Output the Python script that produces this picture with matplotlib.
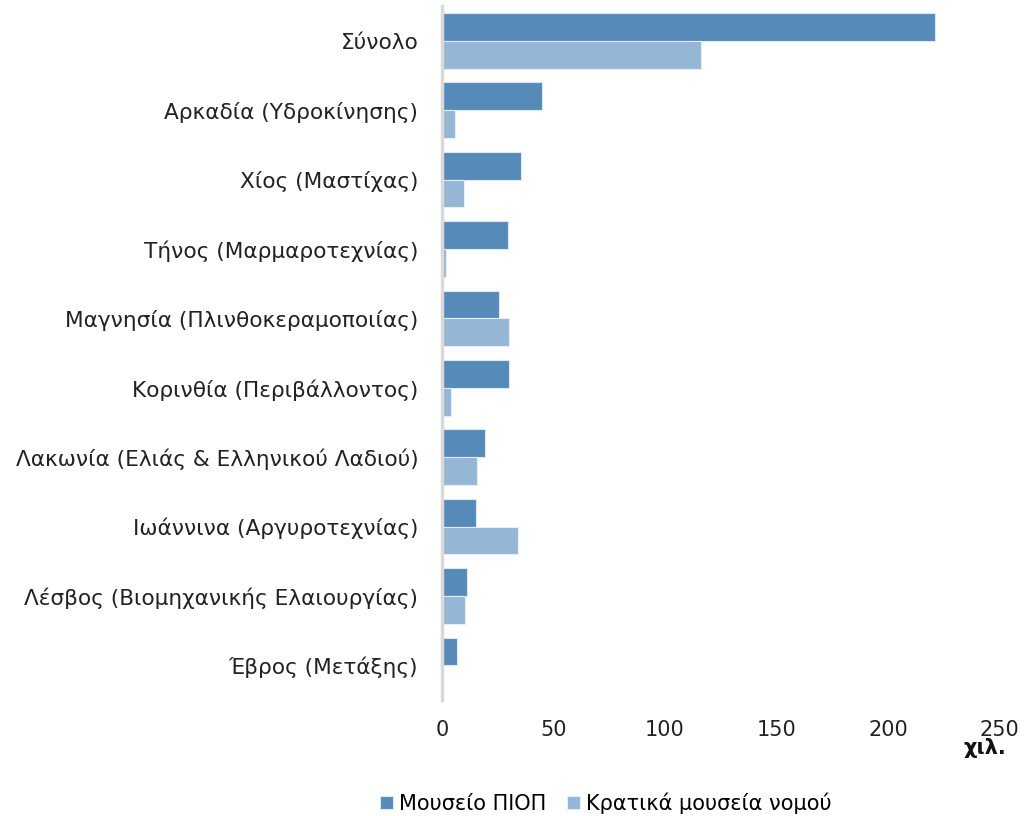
import numpy as np
import matplotlib.pyplot as plt

# categories, top to bottom as in the chart
categories = [
    "Σύνολο",
    "Αρκαδία (Υδροκίνησης)",
    "Χίος (Μαστίχας)",
    "Τήνος (Μαρμαροτεχνίας)",
    "Μαγνησία (Πλινθοκεραμοποιίας)",
    "Κορινθία (Περιβάλλοντος)",
    "Λακωνία (Ελιάς & Ελληνικού Λαδιού)",
    "Ιωάννινα (Αργυροτεχνίας)",
    "Λέσβος (Βιομηχανικής Ελαιουργίας)",
    "Έβρος (Μετάξης)",
]
piop = [221, 45, 35.3, 29.6, 25.6, 30.2, 19.3, 15.2, 11.2, 6.6]
state = [116, 6, 9.9, 1.9, 30.2, 4.2, 15.8, 34.2, 10.6, 0]
series_labels = ["Μουσείο ΠΙΟΠ", "Κρατικά μουσεία νομού"]
x_ticks = [0, 50, 100, 150, 200, 250]
unit_label = "χιλ."

DARK = "#558ab9"
LIGHT = "#95b6d4"

plt.rcParams['font.family'] = ['DejaVu Sans']

fig = plt.figure(figsize=(10.25, 8.16), dpi=100)
ax = fig.add_axes([0.431, 0.142, 0.5444, 0.8505])

y = np.arange(len(categories))
h = 0.4
ax.barh(y - h / 2, piop, height=h, color=DARK, edgecolor="#dde8f2",
        linewidth=0.8, label=series_labels[0])
ax.barh(y + h / 2, state, height=h, color=LIGHT, edgecolor="#e6eef6",
        linewidth=0.8, label=series_labels[1])

ax.set_ylim(len(categories) - 0.5, -0.5)
ax.set_xlim(0, 250)
ax.set_xticks(x_ticks)
ax.set_xticklabels([str(t) for t in x_ticks])
ax.set_yticks(y)
ax.set_yticklabels(categories)
ax.tick_params(axis="both", length=0, colors="#222222")
ax.tick_params(axis="x", pad=14, labelsize=15)
ax.tick_params(axis="y", pad=17, labelsize=15.6)

for side in ["top", "right", "bottom"]:
    ax.spines[side].set_visible(False)
ax.spines["left"].set_color("#d9d9d9")
ax.spines["left"].set_linewidth(2.5)

fig.text(0.982, 0.083, unit_label, ha="right", va="center",
         fontsize=15, fontweight="bold", color="#111111")

fig.legend(loc="center", bbox_to_anchor=(0.591, 0.016), ncol=2,
           frameon=False, fontsize=15, handlelength=0.6,
           handleheight=0.6, handletextpad=0.3, columnspacing=1.0)

fig.savefig("out.png", dpi=100)
